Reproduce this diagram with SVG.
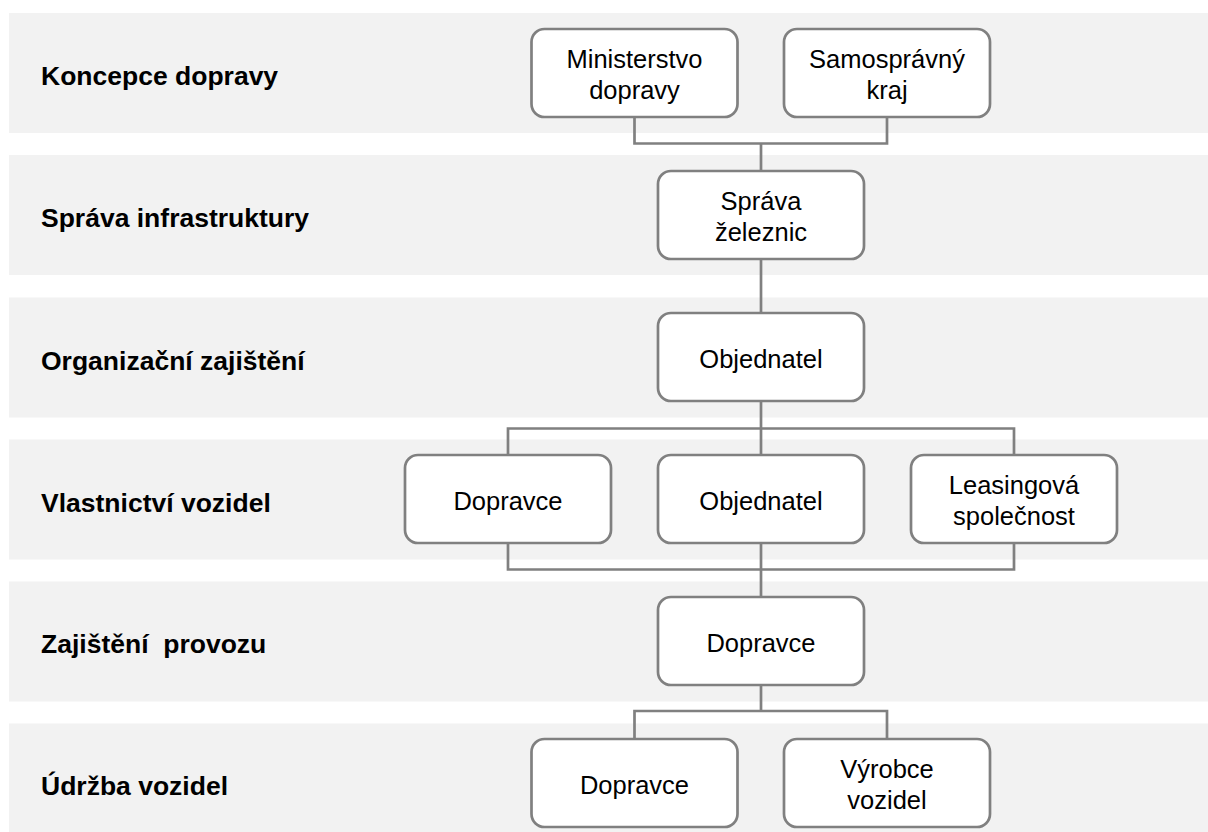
<svg xmlns="http://www.w3.org/2000/svg" width="1208" height="832" viewBox="0 0 1208 832">
<style>
.band{fill:#f2f2f2}
.lbl{font-family:"Liberation Sans",Arial,sans-serif;font-weight:bold;font-size:26.5px;fill:#000;white-space:pre}
.box{fill:#fff;stroke:#808080;stroke-width:2.7}
.nt{font-family:"Liberation Sans",Arial,sans-serif;font-size:25.5px;fill:#000;text-anchor:middle}
.con{fill:none;stroke:#808080;stroke-width:2.7}
</style>
<rect width="1208" height="832" fill="#fff"/>
<g id="bands">
<rect class="band" x="9" y="13" width="1199" height="120"/>
<rect class="band" x="9" y="155" width="1199" height="120"/>
<rect class="band" x="9" y="297.5" width="1199" height="120"/>
<rect class="band" x="9" y="439.5" width="1199" height="120"/>
<rect class="band" x="9" y="581.5" width="1199" height="120"/>
<rect class="band" x="9" y="723.5" width="1199" height="120"/>
</g>
<g id="labels">
<text class="lbl" x="41" y="85">Koncepce dopravy</text>
<text class="lbl" x="41" y="227">Správa infrastruktury</text>
<text class="lbl" x="41" y="369.5">Organizační zajištění</text>
<text class="lbl" x="41" y="511.5">Vlastnictví vozidel</text>
<text class="lbl" x="41" y="653">Zajištění  provozu</text>
<text class="lbl" x="41" y="795">Údržba vozidel</text>
</g>
<g id="connectors">
<path class="con" d="M634.5 117V143.5H887V117M761 143.5V171"/>
<path class="con" d="M761 259V313"/>
<path class="con" d="M761 401V455M508 455V428.5H1014V455"/>
<path class="con" d="M508 543V569.5H1014V543M761 543V597"/>
<path class="con" d="M761 685V711M634.5 739V711H887V739"/>
</g>
<g id="n-ministerstvo">
<rect class="box" x="531.5" y="29" width="206" height="88" rx="13"/>
<text class="nt" x="634.5" y="67.5">Ministerstvo</text>
<text class="nt" x="634.5" y="99">dopravy</text>
</g>
<g id="n-samospravny">
<rect class="box" x="784" y="29" width="206" height="88" rx="13"/>
<text class="nt" x="887" y="67.5">Samosprávný</text>
<text class="nt" x="887" y="99">kraj</text>
</g>
<g id="n-sprava">
<rect class="box" x="658" y="171" width="206" height="88" rx="13"/>
<text class="nt" x="761" y="209.5">Správa</text>
<text class="nt" x="761" y="241">železnic</text>
</g>
<g id="n-objednatel1">
<rect class="box" x="658" y="313" width="206" height="88" rx="13"/>
<text class="nt" x="761" y="367.5">Objednatel</text>
</g>
<g id="n-dopravce1">
<rect class="box" x="405" y="455" width="206" height="88" rx="13"/>
<text class="nt" x="508" y="509.5">Dopravce</text>
</g>
<g id="n-objednatel2">
<rect class="box" x="658" y="455" width="206" height="88" rx="13"/>
<text class="nt" x="761" y="509.5">Objednatel</text>
</g>
<g id="n-leasing">
<rect class="box" x="911" y="455" width="206" height="88" rx="13"/>
<text class="nt" x="1014" y="493.5">Leasingová</text>
<text class="nt" x="1014" y="525">společnost</text>
</g>
<g id="n-dopravce2">
<rect class="box" x="658" y="597" width="206" height="88" rx="13"/>
<text class="nt" x="761" y="651.5">Dopravce</text>
</g>
<g id="n-dopravce3">
<rect class="box" x="531.5" y="739" width="206" height="88" rx="13"/>
<text class="nt" x="634.5" y="793.5">Dopravce</text>
</g>
<g id="n-vyrobce">
<rect class="box" x="784" y="739" width="206" height="88" rx="13"/>
<text class="nt" x="887" y="777.5">Výrobce</text>
<text class="nt" x="887" y="809">vozidel</text>
</g>
</svg>
